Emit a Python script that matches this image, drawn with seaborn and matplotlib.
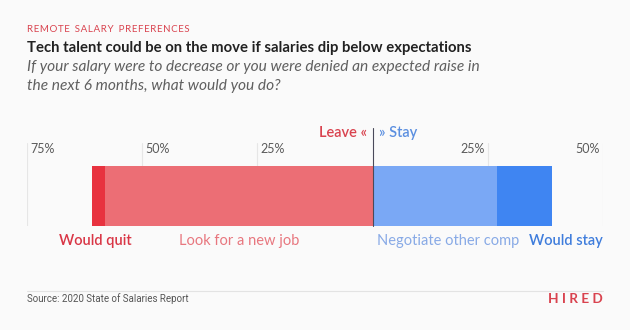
import matplotlib
matplotlib.use("Agg")
import matplotlib.pyplot as plt
import matplotlib.transforms as mtransforms
import seaborn as sns

# Survey responses (% of respondents)
leave_labels = ["Would quit", "Look for a new job"]
leave_values = [3, 58]
stay_labels = ["Negotiate other comp", "Would stay"]
stay_values = [27, 12]

tick_values = [-75, -50, -25, 25, 50]
tick_labels = ["75%", "50%", "25%", "25%", "50%"]

leave_colors = ["#e8323f", "#ec6e75"]
stay_colors = ["#7aa8f5", "#3f85f2"]
leave_text_colors = ["#d93646", "#e8777f"]
stay_text_colors = ["#88aae6", "#3f7ddc"]

sns.set_theme(style="white")
plt.rcParams["font.family"] = ["Lato", "DejaVu Sans"]

BG = "#fafafa"
W, H = 630, 330
fig = plt.figure(figsize=(6.3, 3.3), dpi=100, facecolor=BG)


def fx(px):
    return px / W


def fy(py):
    return 1 - py / H


def shift(px):
    return mtransforms.ScaledTranslation(px / 100, 0, fig.dpi_scale_trans)


# plotting area: x from 27px to 603px, y from 143px to 226px
left_px, right_px = 27, 603
top_px, bot_px = 143, 226
ax = fig.add_axes([fx(left_px), fy(bot_px), fx(right_px - left_px),
                   (bot_px - top_px) / H])
ax.set_facecolor(BG)

cat = ["Respondents"]

# Leave side: stacked to the left (cumulative, largest first so the
# smaller segment is painted over it)
leave_cum = []
run = 0
for v in reversed(leave_values):
    run += v
    leave_cum.append(run)
leave_cum = list(reversed(leave_cum))
for val, col in zip(leave_cum, leave_colors):
    sns.barplot(x=[-val], y=cat, orient="h", color=col, width=1.0,
                saturation=1, ax=ax, linewidth=0)

# Stay side: stacked to the right
stay_cum = []
run = 0
for v in stay_values:
    run += v
    stay_cum.append(run)
for val, col in reversed(list(zip(stay_cum, stay_colors))):
    sns.barplot(x=[val], y=cat, orient="h", color=col, width=1.0,
                saturation=1, ax=ax, linewidth=0)

bar_h_px = bot_px - 165.5
extra = (bot_px - top_px) / bar_h_px - 1.0
ax.set_ylim(0.5, -0.5 - extra)
ax.set_xlim(-75, 50)

for s in ax.spines.values():
    s.set_visible(False)
ax.set_xticks([])
ax.set_yticks([])
ax.set_xlabel("")
ax.set_ylabel("")

# light gridlines
for t in tick_values:
    ax.axvline(t, color="#e6e6e6", lw=0.8, zorder=0)

# center divider
ax.axvline(0, ymin=0, ymax=(bot_px - 128) / (bot_px - top_px), color="#4a4a5a",
           lw=0.8, clip_on=False, zorder=5)

# tick labels
trans = mtransforms.blended_transform_factory(ax.transData, fig.transFigure)
for t, lab in zip(tick_values, tick_labels):
    ax.text(t, fy(149), lab, transform=trans + shift(3 if t < 0 else -3),
            ha="left" if t < 0 else "right", va="center",
            fontsize=9, color="#5a5a5a")

# Leave / Stay header
ax.text(0, fy(133), "Leave «", transform=trans + shift(-6),
        ha="right", va="center", fontsize=10.5, fontweight="semibold",
        color="#d9434f")
ax.text(0, fy(133), "» Stay", transform=trans + shift(6),
        ha="left", va="center", fontsize=10.5, fontweight="semibold",
        color="#5b8fe0")

# segment labels
label_y = fy(241)
q_center = -(leave_values[0] / 2 + leave_values[1])
ax.text(q_center, label_y, leave_labels[0], transform=trans + shift(-3),
        ha="center", va="center", fontsize=10.5, fontweight="semibold",
        color=leave_text_colors[0])
ax.text(-leave_values[1] / 2, label_y, leave_labels[1], transform=trans,
        ha="center", va="center", fontsize=10.5, color=leave_text_colors[1])
ax.text(0, label_y, stay_labels[0], transform=trans + shift(4),
        ha="left", va="center", fontsize=10.5, color=stay_text_colors[0])
ax.text(50, label_y, stay_labels[1], transform=trans, ha="right",
        va="center", fontsize=10.5, fontweight="semibold",
        color=stay_text_colors[1])

# header texts
kicker = "\u200a".join("REMOTE SALARY PREFERENCES").replace("\u200a \u200a", "  ")
fig.text(fx(27), fy(30), kicker, ha="left", va="center", fontsize=7,
         color="#d9434f")
fig.text(fx(27), fy(48),
         "Tech talent could be on the move if salaries dip below expectations",
         ha="left", va="center", fontsize=10.7, fontweight="bold",
         color="#222222")
fig.text(fx(27), fy(67),
         "If your salary were to decrease or you were denied an expected raise in",
         ha="left", va="center", fontsize=11.2, fontstyle="italic",
         color="#606060")
fig.text(fx(27), fy(86), "the next 6 months, what would you do?",
         ha="left", va="center", fontsize=11.2, fontstyle="italic",
         color="#606060")

# footer
fig.add_artist(plt.Line2D([fx(27), fx(603)], [fy(291), fy(291)],
                          color="#e3e3e3", lw=0.8))
fig.text(fx(27), fy(299), "Source: 2020 State of Salaries Report", ha="left",
         va="center", fontsize=7, color="#555555", family="Roboto")
fig.text(fx(603), fy(299), "H I R E D", ha="right", va="center",
         fontsize=9.8, fontweight="bold", color="#d9434f")

fig.savefig("out.png", dpi=100, facecolor=BG)
